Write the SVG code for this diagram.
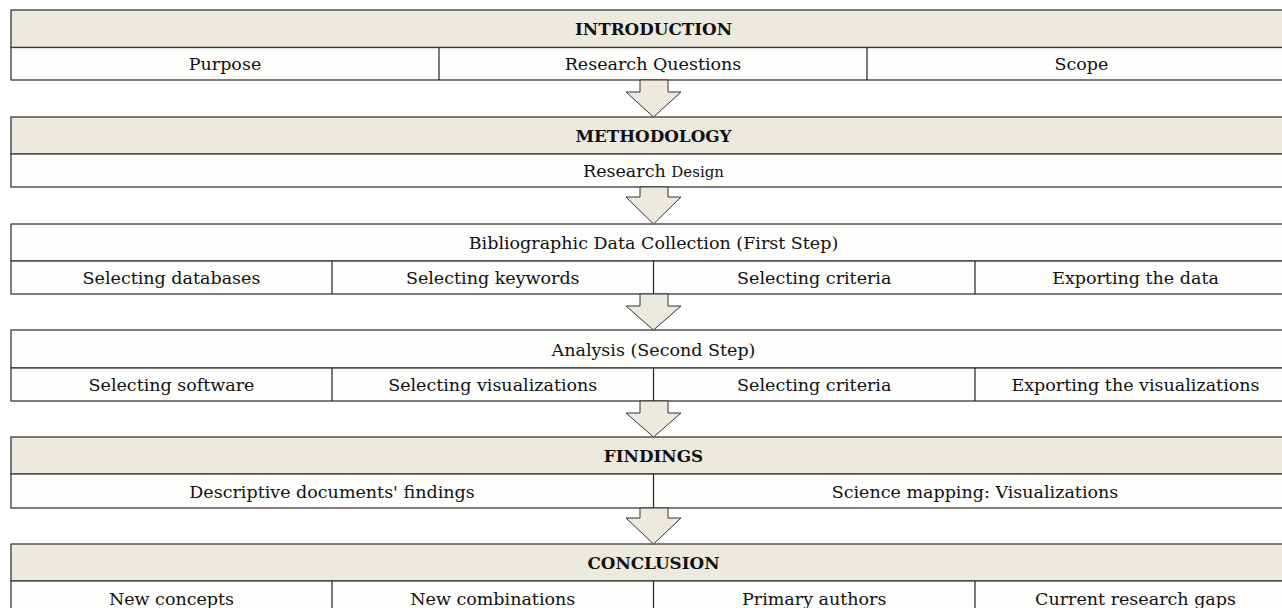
<svg xmlns="http://www.w3.org/2000/svg" width="1282" height="608" viewBox="0 0 1282 608">
  <defs>
    <style>
      .band { fill: #ECE9DF; stroke: #3a3a3a; stroke-width: 1.3; }
      .row { fill: #FDFDFB; stroke: #3a3a3a; stroke-width: 1.3; }
      .div { stroke: #222; stroke-width: 1.2; }
      .arrow { fill: #ECE9DF; stroke: #333; stroke-width: 1; stroke-linejoin: miter; }
      text { font-family: "DejaVu Serif", "Liberation Serif", serif; font-size: 17.5px; fill: #111; text-anchor: middle; }
      .title { font-weight: bold; font-size: 16.8px; }
      .small { font-size: 15px; }
    </style>
  </defs>
  <rect width="1282" height="608" fill="#ffffff"/>

  <!-- Introduction -->
  <g id="introduction">
    <rect class="band" x="11" y="10" width="1285" height="37.5"/>
    <rect class="row" x="11" y="47.5" width="1285" height="32.5"/>
    <line class="div" x1="439" y1="47.5" x2="439" y2="80"/>
    <line class="div" x1="867" y1="47.5" x2="867" y2="80"/>
    <text class="title" x="653.5" y="35">INTRODUCTION</text>
    <text x="225" y="70">Purpose</text>
    <text x="653" y="70">Research Questions</text>
    <text x="1081.5" y="70">Scope</text>
  </g>

  <!-- Methodology -->
  <g id="methodology">
    <rect class="band" x="11" y="117" width="1285" height="37"/>
    <rect class="row" x="11" y="154" width="1285" height="33"/>
    <text class="title" x="653.5" y="142">METHODOLOGY</text>
    <text x="653.5" y="176.5">Research <tspan class="small">Design</tspan></text>
  </g>

  <!-- First step -->
  <g id="data-collection">
    <rect class="row" x="11" y="224" width="1285" height="37"/>
    <rect class="row" x="11" y="261" width="1285" height="33"/>
    <line class="div" x1="332" y1="261" x2="332" y2="294"/>
    <line class="div" x1="653.5" y1="261" x2="653.5" y2="294"/>
    <line class="div" x1="975" y1="261" x2="975" y2="294"/>
    <text x="653.5" y="249">Bibliographic Data Collection (First Step)</text>
    <text x="171.5" y="283.5">Selecting databases</text>
    <text x="492.75" y="283.5">Selecting keywords</text>
    <text x="814.25" y="283.5">Selecting criteria</text>
    <text x="1135.5" y="283.5">Exporting the data</text>
  </g>

  <!-- Second step -->
  <g id="analysis">
    <rect class="row" x="11" y="330" width="1285" height="38"/>
    <rect class="row" x="11" y="368" width="1285" height="33"/>
    <line class="div" x1="332" y1="368" x2="332" y2="401"/>
    <line class="div" x1="653.5" y1="368" x2="653.5" y2="401"/>
    <line class="div" x1="975" y1="368" x2="975" y2="401"/>
    <text x="653.5" y="355.5">Analysis (Second Step)</text>
    <text x="171.5" y="390.5">Selecting software</text>
    <text x="492.75" y="390.5">Selecting visualizations</text>
    <text x="814.25" y="390.5">Selecting criteria</text>
    <text x="1135.5" y="390.5">Exporting the visualizations</text>
  </g>

  <!-- Findings -->
  <g id="findings">
    <rect class="band" x="11" y="437" width="1285" height="37"/>
    <rect class="row" x="11" y="474" width="1285" height="34"/>
    <line class="div" x1="653.5" y1="474" x2="653.5" y2="508"/>
    <text class="title" x="653.5" y="462">FINDINGS</text>
    <text x="332" y="497.5">Descriptive documents' findings</text>
    <text x="975" y="497.5">Science mapping: Visualizations</text>
  </g>

  <!-- Conclusion -->
  <g id="conclusion">
    <rect class="band" x="11" y="544" width="1285" height="37"/>
    <rect class="row" x="11" y="581" width="1285" height="34"/>
    <line class="div" x1="332" y1="581" x2="332" y2="615"/>
    <line class="div" x1="653.5" y1="581" x2="653.5" y2="615"/>
    <line class="div" x1="975" y1="581" x2="975" y2="615"/>
    <text class="title" x="653.5" y="569">CONCLUSION</text>
    <text x="171.5" y="604.5">New concepts</text>
    <text x="492.75" y="604.5">New combinations</text>
    <text x="814.25" y="604.5">Primary authors</text>
    <text x="1135.5" y="604.5">Current research gaps</text>
  </g>

  <!-- Block arrows between sections -->
  <g id="connectors">
    <polygon class="arrow" points="640,80 668,80 668,92 681,92 653.5,117 626,92 640,92"/>
    <polygon class="arrow" points="640,187 668,187 668,197 681,197 653.5,224 626,197 640,197"/>
    <polygon class="arrow" points="640,294 668,294 668,306 681,306 653.5,330 626,306 640,306"/>
    <polygon class="arrow" points="640,401 668,401 668,413 681,413 653.5,437 626,413 640,413"/>
    <polygon class="arrow" points="640,508 668,508 668,518 681,518 653.5,544 626,518 640,518"/>
  </g>
</svg>
